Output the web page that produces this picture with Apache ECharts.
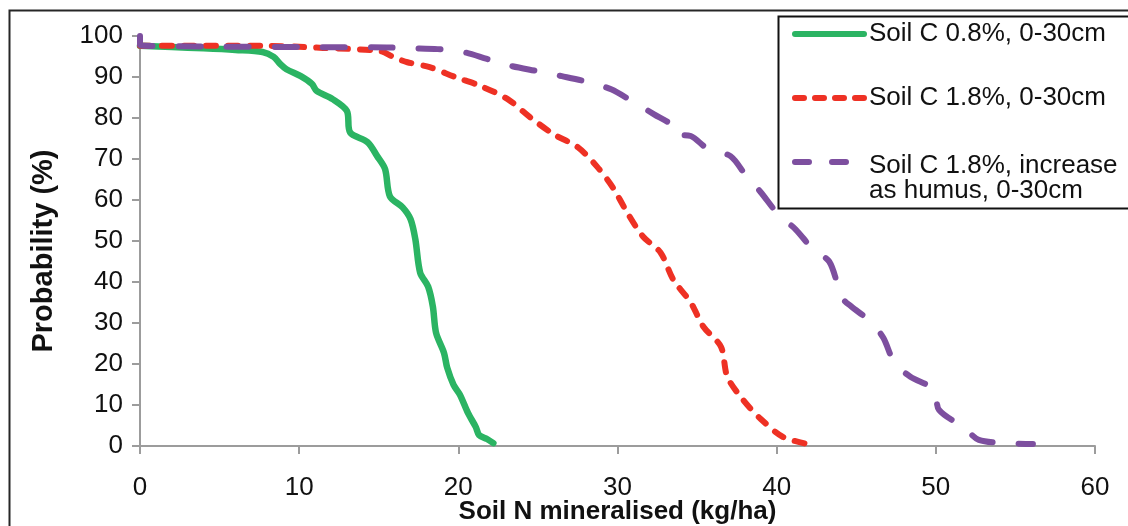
<!DOCTYPE html>
<html>
<head>
<meta charset="utf-8">
<title>Soil N mineralised</title>
<script src="https://cdn.jsdelivr.net/npm/echarts@6/dist/echarts.min.js"></script>
<style>
  html, body { margin: 0; padding: 0; background: #fff; }
  #main { width: 1128px; height: 526px; }
</style>
</head>
<body>
<div id="main"></div>
<script>
// series names
var names = ['Soil C 0.8%, 0-30cm', 'Soil C 1.8%, 0-30cm', 'Soil C 1.8%, increase as humus, 0-30cm'];

// Soil C 0.8%
var greenX = [0, 2, 4, 6, 7.7, 8.4, 8.8, 9.2, 10.1, 10.8, 11.1, 12.1, 13.0, 13.2, 14.3, 14.9, 15.4, 15.7, 16.5, 17.0, 17.3, 17.6, 18.1, 18.4, 18.6, 19.1, 19.3, 19.7, 20.1, 20.6, 21.1, 21.3, 21.8, 22.2];
var greenY = [97.6, 97.3, 97.0, 96.6, 96.1, 94.9, 93.2, 91.9, 90.2, 88.3, 86.6, 84.6, 81.7, 76.5, 74.1, 70.7, 67.5, 60.9, 58.2, 55.3, 50.4, 42.3, 38.9, 34.0, 27.6, 22.7, 19.1, 14.9, 12.5, 8.1, 4.6, 2.7, 1.7, 0.7];

// Soil C 1.8%
var redX = [0, 4, 7.7, 11.5, 15.1, 15.9, 16.8, 18.2, 19.8, 21.4, 23.1, 24.5, 26.0, 27.5, 28.7, 29.7, 30.6, 31.6, 32.7, 33.5, 34.6, 35.4, 36.5, 36.9, 37.9, 39.0, 40.4, 42.3];
var redY = [97.6, 97.6, 97.6, 97.1, 96.3, 94.9, 93.6, 92.4, 90.0, 87.8, 84.6, 80.2, 76.0, 72.9, 68.2, 63.1, 57.0, 51.1, 47.2, 40.6, 35.0, 29.1, 24.2, 16.9, 11.2, 6.6, 2.2, 0.2];

// Soil C 1.8%, increase as humus
var purpleX = [0, 0, 0.3, 5, 10, 15.5, 17.0, 18.7, 20.3, 21.8, 23.3, 25.0, 26.5, 28.1, 29.6, 31.0, 32.3, 33.5, 33.6, 34.6, 35.7, 37.1, 38.1, 39.0, 40.1, 41.2, 42.3, 43.3, 43.9, 44.2, 44.7, 45.9, 46.7, 47.4, 48.4, 49.9, 50.2, 51.8, 52.7, 54.5, 56.1];
var purpleY = [100, 97.8, 97.6, 97.4, 97.3, 97.2, 97.0, 96.8, 96.1, 94.4, 92.7, 91.4, 90.2, 88.8, 87.0, 83.9, 80.9, 78.0, 76.0, 75.6, 72.4, 70.7, 65.8, 61.9, 56.5, 52.8, 47.9, 45.0, 38.5, 35.7, 34.0, 30.3, 26.4, 20.3, 16.9, 13.7, 8.8, 4.4, 1.5, 0.7, 0.5];

function pairs(xs, ys) {
  var out = [];
  for (var i = 0; i < xs.length; i++) out.push([xs[i], ys[i]]);
  return out;
}

var font = '"Liberation Sans", Arial, sans-serif';
var axisGrey = '#9c9c9c';
var fs = 26;

var myChart = echarts.init(document.getElementById('main'));

// one legend per entry so each can sit where it does in the picture
function legendAt(top, name, dash, extra) {
  var l = {
    orient: 'vertical',
    left: 792,
    top: top,
    padding: 0,
    itemWidth: 69,
    itemHeight: 14,
    selectedMode: false,
    data: [name],
    itemStyle: { opacity: 0 }, // hide the circle symbol, keep the line
    lineStyle: { width: 6, cap: 'round', type: dash },
    textStyle: { fontFamily: font, fontSize: fs, color: '#111' }
  };
  return Object.assign(l, extra || {});
}

var option = {
  backgroundColor: '#fff',
  animation: false,
  grid: { left: 140, right: 33, top: 36, bottom: 80, outerBoundsMode: 'none' },
  legend: [
    legendAt(21, names[0], 'solid'),
    legendAt(85, names[1], [9, 11]),
    legendAt(132, names[2], [14, 23], {
      formatter: function () { return '{s| }\n{a|Soil C 1.8%, increase}\n{a|as humus, 0-30cm}'; },
      textStyle: {
        fontFamily: font, fontSize: fs, color: '#111',
        rich: {
          s: { fontSize: 10, lineHeight: 33 },
          a: { fontFamily: font, fontSize: fs, color: '#111', lineHeight: 25 }
        }
      }
    })
  ],
  xAxis: {
    type: 'value',
    min: 0, max: 60, interval: 10,
    name: 'Soil N mineralised (kg/ha)',
    nameLocation: 'middle',
    nameGap: 53,
    nameMoveOverlap: false,
    nameTextStyle: { fontFamily: font, fontSize: fs, fontWeight: 'bold', color: '#111' },
    axisLine: { show: true, lineStyle: { color: axisGrey, width: 2 } },
    axisTick: { show: true, length: 8, lineStyle: { color: axisGrey, width: 2 } },
    axisLabel: { margin: 29, fontFamily: font, fontSize: fs, color: '#111' },
    splitLine: { show: false }
  },
  yAxis: {
    type: 'value',
    min: 0, max: 100, interval: 10,
    name: 'Probability (%)',
    nameLocation: 'middle',
    nameGap: 82,
    nameMoveOverlap: false,
    nameTextStyle: { fontFamily: font, fontSize: 29, fontWeight: 'bold', color: '#111', padding: [0, 20, 0, 0] },
    axisLine: { show: true, lineStyle: { color: axisGrey, width: 2 } },
    axisTick: { show: true, length: 8, lineStyle: { color: axisGrey, width: 2 } },
    axisLabel: { margin: 17, fontFamily: font, fontSize: fs, color: '#111' },
    splitLine: { show: false }
  },
  series: [
    {
      name: names[0], type: 'line', symbol: 'none', smooth: 0.3,
      data: pairs(greenX, greenY),
      lineStyle: { color: '#2bb463', width: 6.5, cap: 'round', join: 'round' },
      itemStyle: { color: '#2bb463' }
    },
    {
      name: names[1], type: 'line', symbol: 'none', smooth: 0.3,
      data: pairs(redX, redY),
      lineStyle: { color: '#ee3124', width: 6, type: [10, 12], cap: 'round', join: 'round' },
      itemStyle: { color: '#ee3124' }
    },
    {
      name: names[2], type: 'line', symbol: 'none', smooth: 0.3,
      data: pairs(purpleX, purpleY),
      lineStyle: { color: '#7d4f9f', width: 6, type: [22, 26], cap: 'round', join: 'round' },
      itemStyle: { color: '#7d4f9f' }
    }
  ],
  // outer frame and legend frame
  graphic: [
    { type: 'rect', left: 7, top: 8, z: 100, silent: true,
      shape: { x: 0, y: 0, width: 1200, height: 600 },
      style: { fill: null, stroke: '#262626', lineWidth: 2 } },
    { type: 'rect', left: 776, top: 14, z: 100, silent: true,
      shape: { x: 0, y: 0, width: 400, height: 192 },
      style: { fill: null, stroke: '#111', lineWidth: 2 } }
  ]
};

myChart.setOption(option);
</script>
</body>
</html>
